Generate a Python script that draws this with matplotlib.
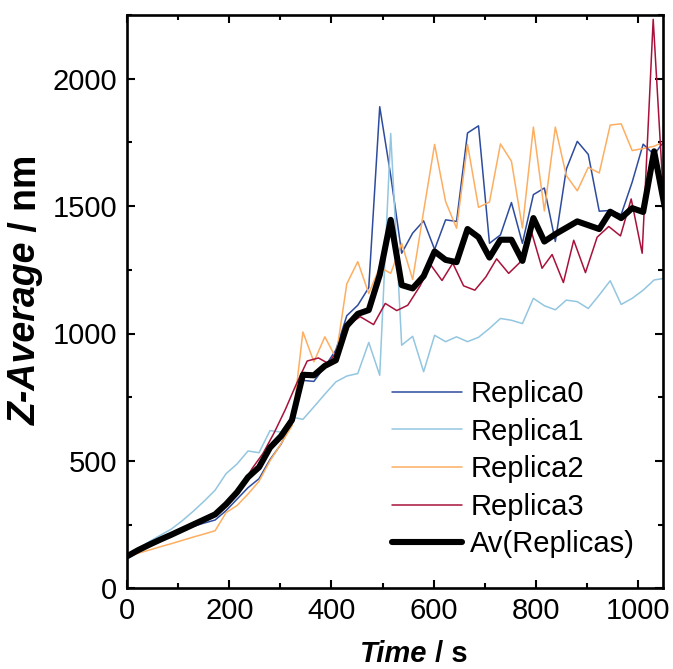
import matplotlib
matplotlib.use("Agg")
import matplotlib.pyplot as plt
from matplotlib.font_manager import FontProperties
from matplotlib.ticker import MultipleLocator

plt.rcParams["font.family"] = ["Liberation Sans", "DejaVu Sans"]

# Sampling times (s) shared by Replica0-2 and the average
time_s = [0, 21.5, 43, 64.5, 86, 107.5, 129, 150.5, 172, 193.5,
          215, 236.5, 258, 279.5, 301, 322.5, 344, 365.5, 387, 408.5,
          430, 451.5, 473, 494.5, 516, 537.5, 559, 580.5, 602, 623.5,
          645, 666.5, 688, 709.5, 731, 752.5, 774, 795.5, 817, 838.5,
          860, 881.5, 903, 924.5, 946, 967.5, 989, 1010.5, 1032, 1053.5]

replica0 = [125, 148, 168, 188, 207, 226, 243, 256, 268, 305,
            350, 395, 430, 505, 565, 650, 816, 812, 870, 935,
            1070, 1111, 1180, 1890, 1620, 1315, 1394, 1442, 1330, 1446,
            1440, 1787, 1815, 1354, 1387, 1514, 1354, 1545, 1571, 1361,
            1645, 1754, 1703, 1480, 1483, 1467, 1594, 1743, 1702, 1760]

replica1 = [125, 155, 183, 208, 232, 265, 302, 342, 385, 450,
            488, 539, 532, 619, 613, 672, 663, 712, 762, 810,
            833, 843, 965, 836, 1785, 954, 989, 850, 993, 968,
            987, 968, 985, 1020, 1059, 1052, 1039, 1138, 1109, 1093,
            1131, 1125, 1098, 1151, 1207, 1114, 1138, 1170, 1210, 1217]

replica2 = [125, 138, 150, 163, 175, 188, 201, 213, 226, 297,
            325, 370, 420, 500, 567, 637, 1006, 889, 987, 905,
            1195, 1282, 1157, 1260, 1236, 1354, 1212, 1480, 1742, 1518,
            1413, 1742, 1495, 1516, 1744, 1676, 1414, 1810, 1481, 1810,
            1620, 1560, 1652, 1630, 1818, 1823, 1718, 1726, 1735, 1755]

# Replica3 was sampled on its own time base
time_r3 = [0, 87.6, 173.9, 222.9, 244.5, 266, 287.6, 309.2, 330.8, 352.4,
           374.5, 394.1, 417.1, 436.7, 456.3, 482.4, 505.3, 527.8, 549.4, 573,
           594.5, 616.5, 637.6, 658.8, 680.8, 702.4, 723.5, 747.1, 768.6, 791.6,
           812.5, 832.2, 854.3, 874.5, 897.5, 920.4, 943.1, 966.1, 987.1, 1008.6,
           1030.2, 1050.4]
replica3 = [125, 213, 288, 395, 470, 530, 610, 700, 800, 892,
            904, 882, 950, 1040, 1066, 1035, 1118, 1090, 1111, 1185,
            1269, 1208, 1276, 1187, 1170, 1222, 1293, 1236, 1278, 1400,
            1256, 1310, 1200, 1366, 1239, 1378, 1420, 1383, 1528, 1315,
            2233, 1530]

average = [126, 150, 171, 191, 210, 230, 250, 270, 290, 330,
           377, 436, 475, 552, 597, 660, 838, 836, 873, 895,
           1030, 1077, 1092, 1230, 1446, 1190, 1177, 1225, 1322, 1289,
           1280, 1410, 1378, 1298, 1368, 1368, 1285, 1453, 1361, 1390,
           1415, 1440, 1425, 1410, 1478, 1453, 1492, 1477, 1715, 1490]

labels = ["Replica0", "Replica1", "Replica2", "Replica3", "Av(Replicas)"]
colors = ["#2E4C9E", "#93C6E0", "#FDAE61", "#A8123A", "black"]

W, H = 673, 669
fig = plt.figure(figsize=(W / 100, H / 100), dpi=100)
ax = fig.add_axes([127.3 / W, (H - 588.3) / H, (663.3 - 127.3) / W, (588.3 - 15) / H])

thin = 1.1
ax.plot(time_s, replica0, color=colors[0], lw=thin, label=labels[0])
ax.plot(time_s, replica1, color=colors[1], lw=thin, label=labels[1])
ax.plot(time_s, replica2, color=colors[2], lw=thin, label=labels[2])
ax.plot(time_r3, replica3, color=colors[3], lw=thin, label=labels[3])
ax.plot(time_s, average, color=colors[4], lw=4.4, label=labels[4],
        solid_joinstyle="round", solid_capstyle="round")

ax.set_xlim(0, 1050)
ax.set_ylim(0, 2250)
ax.xaxis.set_major_locator(MultipleLocator(200))
ax.xaxis.set_minor_locator(MultipleLocator(100))
ax.yaxis.set_major_locator(MultipleLocator(500))
ax.yaxis.set_minor_locator(MultipleLocator(250))

for s in ax.spines.values():
    s.set_linewidth(1.9)
ax.tick_params(which="both", direction="in", top=True, right=True, width=1.5,
               labelsize=21)
ax.tick_params(which="major", length=6)
ax.tick_params(which="minor", length=3.6)
ax.tick_params(axis="x", pad=6)
ax.tick_params(axis="y", pad=7.5)

leg = ax.legend(loc="upper left", bbox_to_anchor=(392 / W, 1 - 380 / H),
                bbox_transform=fig.transFigure, frameon=False, fontsize=21,
                handlelength=2.4, handletextpad=0.28, labelspacing=0.33,
                borderpad=0, borderaxespad=0)
for h in leg.get_lines():
    h.set_solid_capstyle("round")

# Axis titles with mixed bold-italic / bold runs
fig.canvas.draw()
renderer = fig.canvas.get_renderer()


def run_props(style, size):
    return FontProperties(family=["Liberation Sans", "DejaVu Sans"],
                          weight="bold", style=style, size=size)


def title_length(parts, size):
    return sum(renderer.get_text_width_height_descent(t, run_props(st, size),
                                                      ismath=False)[0]
               for t, st in parts)


def styled_title(parts, x0, y0, size, vertical):
    pos = 0.0
    for text, style in parts:
        fp = run_props(style, size)
        w = renderer.get_text_width_height_descent(text, fp, ismath=False)[0]
        if vertical:
            fig.text(x0 / W, 1 - (y0 - pos) / H, text, fontproperties=fp,
                     rotation=90, rotation_mode="anchor",
                     ha="left", va="baseline")
        else:
            fig.text((x0 + pos) / W, 1 - y0 / H, text, fontproperties=fp,
                     ha="left", va="baseline")
        pos += w


xparts = [("Time", "italic"), (" / s", "normal")]
yparts = [("Z-Average", "italic"), (" / nm", "normal")]
xsize, ysize = 21, 27
xl = title_length(xparts, xsize)
yl = title_length(yparts, ysize)
styled_title(xparts, 414 - xl / 2, 662, xsize, vertical=False)
styled_title(yparts, 36, 290 + yl / 2, ysize, vertical=True)

fig.savefig("out.png", dpi=100)
